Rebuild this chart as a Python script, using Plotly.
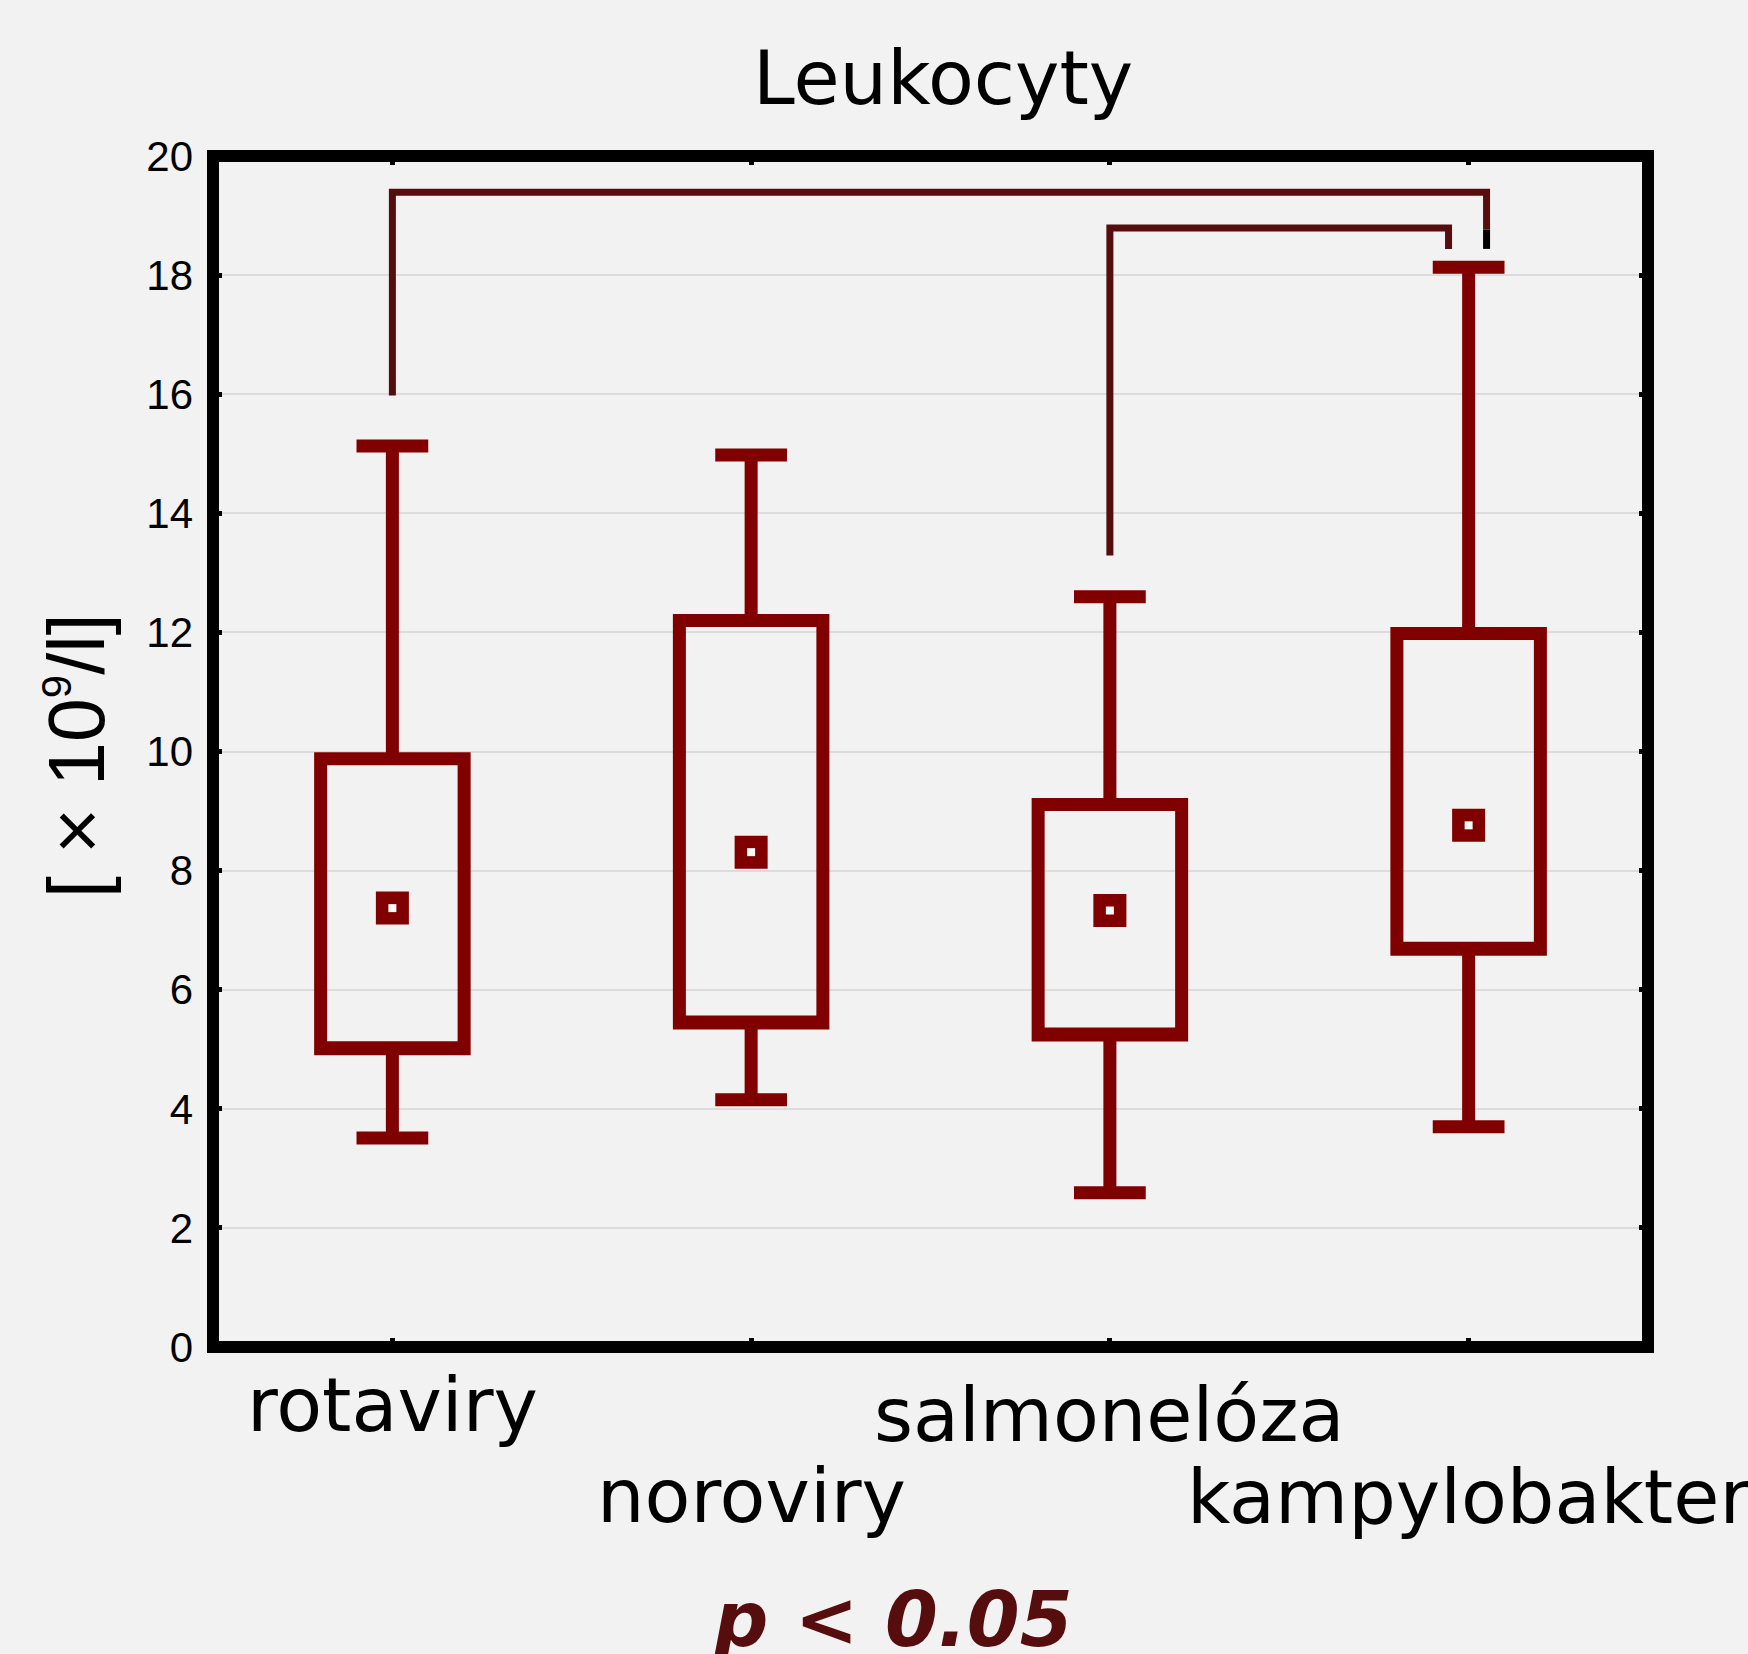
import plotly.graph_objects as go

categories = ["rotaviry", "noroviry", "salmonelóza", "kampylobakter"]
positions = [0, 1, 2, 3]
label_top_px = [1359, 1450, 1369, 1451]   # top of each category label (page pixels)
q1 = [5.01, 5.44, 5.24, 6.68]
q3 = [9.88, 12.20, 9.11, 11.98]
lower_whisker = [3.51, 4.15, 2.59, 3.70]
upper_whisker = [15.13, 14.98, 12.60, 18.13]
means = [7.37, 8.31, 7.33, 8.76]
y_ticks = [0, 2, 4, 6, 8, 10, 12, 14, 16, 18, 20]

# significance brackets (x in category index units, y in data units)
bracket1_x = [0, 0, 3.05, 3.05]
bracket1_y = [15.98, 19.39, 19.39, 18.76]
bracket1_tip_x = [3.05, 3.05]
bracket1_tip_y = [18.76, 18.44]
bracket2_x = [2, 2, 2.944, 2.944]
bracket2_y = [13.29, 18.79, 18.79, 18.44]

MAROON = "#800000"
DARK = "#560d0d"
BG = "#f2f2f2"

PLOT_TOP, PLOT_BOTTOM, PLOT_LEFT, PLOT_RIGHT = 156, 1347, 213, 1648
PH = PLOT_BOTTOM - PLOT_TOP
PW = PLOT_RIGHT - PLOT_LEFT


def py(px):
    return (PLOT_BOTTOM - px) / PH


def pxx(px):
    return (px - PLOT_LEFT) / PW


fig = go.Figure()

fig.add_trace(go.Box(
    x=positions, q1=q1, median=q1, q3=q3,
    lowerfence=lower_whisker, upperfence=upper_whisker,
    width=0.4, whiskerwidth=0.5, boxpoints=False,
    line=dict(color=MAROON, width=13),
    fillcolor="rgba(0,0,0,0)", showlegend=False, hoverinfo="skip",
))

fig.add_trace(go.Scatter(
    x=positions, y=means, mode="markers",
    marker=dict(symbol="square", size=27, color=MAROON,
                line=dict(color=MAROON, width=6)),
    showlegend=False, hoverinfo="skip",
))
fig.add_trace(go.Scatter(
    x=positions, y=means, mode="markers",
    marker=dict(symbol="square", size=8, color="#fafafa", line=dict(width=0)),
    showlegend=False, hoverinfo="skip",
))

for bx, by, col in [(bracket1_x, bracket1_y, DARK),
                    (bracket1_tip_x, bracket1_tip_y, "black"),
                    (bracket2_x, bracket2_y, DARK)]:
    fig.add_trace(go.Scatter(
        x=bx, y=by, mode="lines",
        line=dict(color=col, width=7),
        showlegend=False, hoverinfo="skip", cliponaxis=False,
    ))

annotations = []
for pos, name, top in zip(positions, categories, label_top_px):
    annotations.append(dict(
        text=name, xref="x", yref="paper", x=pos, y=py(top),
        xanchor="center", yanchor="top", showarrow=False,
        font=dict(family="DejaVu Sans", size=75, color="black")))

annotations.append(dict(
    text="[ × 10<sup><span style='font-size:42px'>9</span></sup>/l]",
    xref="paper", yref="paper",
    x=pxx(76), y=py(756), xanchor="center", yanchor="middle",
    textangle=-90, showarrow=False,
    font=dict(family="Liberation Sans, Arial", size=79, color="black")))
annotations.append(dict(
    text="<b><i>p < 0.05</i></b>", xref="paper", yref="paper",
    x=pxx(893), y=py(1573), xanchor="center", yanchor="top", showarrow=False,
    font=dict(family="DejaVu Sans", size=76, color=DARK)))
annotations.append(dict(
    text="Leukocyty", xref="paper", yref="paper",
    x=pxx(943), y=py(32), xanchor="center", yanchor="top", showarrow=False,
    font=dict(family="DejaVu Sans", size=75, color="black")))

fig.update_layout(
    width=1748, height=1654,
    margin=dict(l=PLOT_LEFT, r=1748 - PLOT_RIGHT, t=PLOT_TOP, b=1654 - PLOT_BOTTOM,
                autoexpand=False),
    paper_bgcolor=BG, plot_bgcolor=BG,
    xaxis=dict(
        range=[-0.5, 3.5], tickmode="array", tickvals=positions,
        showticklabels=False,
        ticks="inside", ticklen=9, tickwidth=5, tickcolor="black",
        showline=False, mirror="ticks",
        showgrid=False, zeroline=False,
    ),
    yaxis=dict(
        range=[0, 20], tickmode="array", tickvals=y_ticks,
        ticks="inside", ticklen=9, tickwidth=5, tickcolor="black",
        showline=False, mirror="ticks", ticklabelstandoff=19,
        showgrid=True, gridcolor="#dcdcdc", gridwidth=2, zeroline=False,
        tickfont=dict(family="Liberation Sans, Arial", size=42, color="black"),
    ),
    shapes=[dict(type="rect", xref="paper", yref="paper", x0=0, x1=1, y0=0, y1=1,
                 line=dict(color="black", width=12), fillcolor="rgba(0,0,0,0)",
                 layer="above")],
    annotations=annotations,
)

fig.write_html("out.html", config={"displayModeBar": False},
               post_script="document.body.style.margin='0';")
